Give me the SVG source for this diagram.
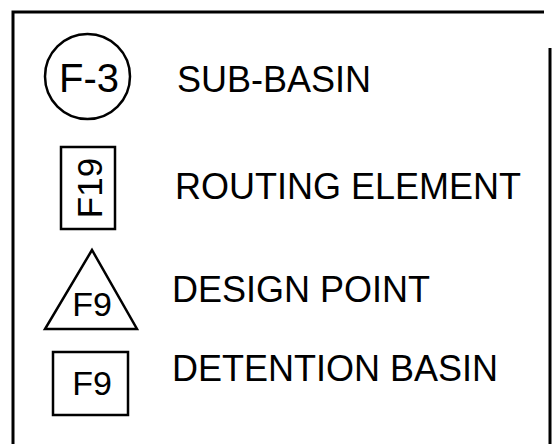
<svg xmlns="http://www.w3.org/2000/svg" width="554" height="444" viewBox="0 0 554 444">
<style>
.shape{fill:none;stroke:#000;stroke-width:2.5}
.frame{fill:none;stroke:#000;stroke-width:3}
text{font-family:"Liberation Sans",Arial,sans-serif;fill:#000}
.lbl{font-size:36px}
.sym{font-size:35px;text-anchor:middle}
</style>
<rect width="554" height="444" fill="#fff"/>
<g id="frame">
<path class="frame" d="M13,444 V12 H544"/>
<path class="frame" d="M550,48 V444"/>
</g>
<g id="sub-basin">
<circle class="shape" cx="87.5" cy="76.5" r="42.5"/>
<text class="sym" x="89" y="92" style="font-size:40px">F-3</text>
<text class="lbl" x="177" y="92">SUB-BASIN</text>
</g>
<g id="routing-element">
<rect class="shape" x="61" y="147" width="54" height="82"/>
<text class="sym" transform="translate(102,188) rotate(-90)">F19</text>
<text class="lbl" x="175" y="199">ROUTING ELEMENT</text>
</g>
<g id="design-point">
<polygon class="shape" points="92,250 45,329 137,329"/>
<text class="sym" x="92" y="316" style="font-size:34px">F9</text>
<text class="lbl" x="172" y="302">DESIGN POINT</text>
</g>
<g id="detention-basin">
<rect class="shape" x="53" y="352" width="75" height="63"/>
<text class="sym" x="92" y="395" style="font-size:34px">F9</text>
<text class="lbl" x="172" y="381">DETENTION BASIN</text>
</g>
<g id="connectors"></g>
</svg>
